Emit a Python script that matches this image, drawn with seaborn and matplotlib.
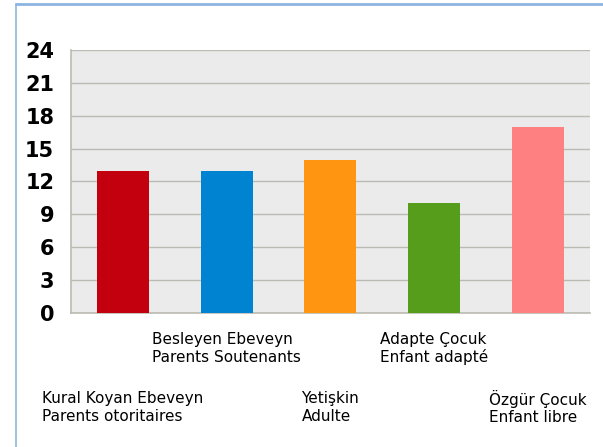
import matplotlib
matplotlib.use("Agg")
import matplotlib.pyplot as plt
import seaborn as sns
import pandas as pd
from matplotlib.lines import Line2D

# data
categories = ["Kural Koyan Ebeveyn\nParents otoritaires",
              "Besleyen Ebeveyn\nParents Soutenants",
              "Yetişkin\nAdulte",
              "Adapte Çocuk\nEnfant adapté",
              "Özgür Çocuk\nEnfant libre"]
values = [13, 13, 14, 10, 17]
bar_colors = ["#C3000D", "#0083D1", "#FF9511", "#579D1C", "#FF8080"]
yticks = [0, 3, 6, 9, 12, 15, 18, 21, 24]

sns.set_theme(style="white")
plt.rcParams["font.family"] = ["DejaVu Sans"]

df = pd.DataFrame({"cat": categories, "val": values})

fig = plt.figure(figsize=(6.03, 4.47), dpi=100)
ax = fig.add_axes([0.1177, 0.2998, 0.8603, 0.5884])
ax.set_facecolor("#EBEBEB")

sns.barplot(data=df, x="cat", y="val", hue="cat", palette=bar_colors,
            width=0.5, legend=False, ax=ax, zorder=3, saturation=1, linewidth=0)

ax.set_ylim(0, 24)
ax.set_xlim(-0.5, len(categories) - 0.5)
ax.set_yticks(yticks)
ax.set_yticklabels([str(t) for t in yticks], fontsize=15, fontweight="bold", color="black")
ax.yaxis.grid(True, color="#BBBBB3", linewidth=1.0, zorder=1)
ax.set_axisbelow(True)
ax.set_xlabel("")
ax.set_ylabel("")

# ticks between categories, labels drawn as text in two rows
ax.set_xticks([i - 0.5 for i in range(len(categories) + 1)])
ax.set_xticklabels([])
ax.tick_params(axis="x", direction="out", length=7, color="#BBBBB3", width=1)
ax.tick_params(axis="y", direction="out", length=7, color="#BBBBB3", width=1, pad=5)

for i, lab in enumerate(categories):
    y = -0.36 if i % 2 == 0 else -0.135
    ax.text(i, y, lab, transform=ax.get_xaxis_transform(), ha="center", va="center",
            multialignment="left", fontsize=11, color="black", linespacing=1.2)

for side in ["top", "right"]:
    ax.spines[side].set_visible(False)
ax.spines["left"].set_color("#BBBBB3")
ax.spines["bottom"].set_color("#BBBBB3")
ax.spines["left"].set_linewidth(1.2)
ax.spines["bottom"].set_linewidth(1.2)

# blue frame of the chart object
fig.add_artist(Line2D([16 / 603, 1.0], [1 - 4 / 447, 1 - 4 / 447],
                      transform=fig.transFigure, color="#8DB4E2", linewidth=2))
fig.add_artist(Line2D([16 / 603, 16 / 603], [0, 1 - 4 / 447],
                      transform=fig.transFigure, color="#8DB4E2", linewidth=1.2))

fig.savefig("out.png", dpi=100)
